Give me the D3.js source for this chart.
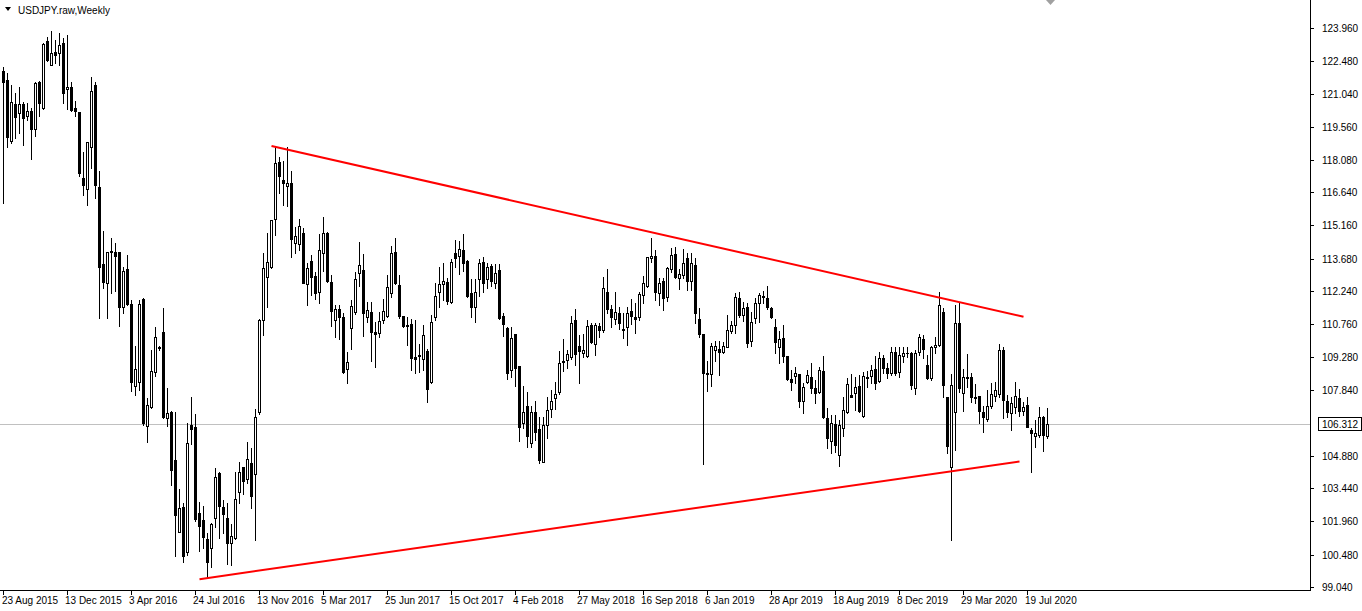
<!DOCTYPE html>
<html><head><meta charset="utf-8">
<script src="https://cdn.jsdelivr.net/npm/d3@7"></script>
<style>html,body{margin:0;padding:0;background:#fff;} svg{display:block;}</style>
</head><body><svg id="c" width="1362" height="611"></svg>
<script>
const title = "USDJPY.raw,Weekly";
const openP = [122.05,121.65,118.94,120.56,120.16,120.56,120.04,120.28,119.45,121.56,120.41,123.37,122.30,122.89,122.86,123.28,121.23,121.32,120.38,120.23,117.26,116.77,118.67,121.42,116.86,113.43,112.58,113.98,113.96,113.96,111.54,113.22,111.64,108.00,108.20,111.87,106.22,107.08,108.64,109.70,110.43,106.56,106.86,104.70,101.51,102.59,100.62,106.26,106.19,102.33,102.03,101.17,100.77,102.10,104.11,102.59,102.13,101.02,101.21,103.29,104.38,103.84,104.59,104.08,106.86,110.95,112.88,113.32,115.43,118.00,117.19,116.92,117.04,114.36,114.33,114.81,112.55,113.59,112.91,112.21,113.92,114.84,112.65,110.95,111.42,111.09,108.74,110.57,111.31,113.02,113.17,111.06,111.31,110.42,110.35,110.94,111.14,112.13,113.99,112.50,111.12,110.70,110.76,109.28,109.40,109.19,109.56,108.19,111.06,112.21,112.53,112.65,111.76,113.91,113.79,114.06,113.57,112.16,111.51,112.75,113.54,112.75,113.35,112.61,113.17,111.12,110.57,108.71,110.32,108.90,106.34,107.12,105.48,106.82,106.08,104.63,106.27,106.97,107.46,107.75,109.08,109.14,109.28,110.95,109.79,109.49,109.34,110.73,109.88,110.68,110.50,112.21,111.42,110.98,111.25,110.56,110.62,111.35,111.07,111.07,112.06,112.46,113.70,113.80,112.16,112.66,111.96,113.21,113.89,112.81,112.95,113.70,112.70,113.40,110.97,110.32,108.56,108.53,109.60,109.63,109.53,109.75,110.47,110.72,111.91,111.16,111.51,110.02,111.02,111.68,112.01,111.91,111.46,110.64,109.76,110.13,109.34,108.30,108.45,108.54,107.31,108.20,108.42,107.90,107.75,108.69,106.56,105.57,106.31,104.93,106.12,106.82,107.60,107.71,108.00,106.66,108.34,108.45,108.74,108.24,109.23,108.79,108.59,109.53,108.64,109.34,109.49,109.49,107.90,109.53,110.08,108.94,108.34,109.72,109.83,111.31,107.50,104.40,106.86,110.80,107.67,108.34,108.39,107.53,107.56,106.86,106.51,107.11,107.56,107.64,109.60,107.35,106.78,107.08,107.45,106.90,107.15,106.04,105.77,105.82,106.60,105.77];
const highP = [122.20,121.94,121.42,121.05,121.32,120.68,120.63,120.38,121.57,121.60,123.31,123.58,123.84,123.43,123.73,123.50,123.65,121.57,120.71,120.23,118.41,118.90,121.76,121.57,117.60,114.91,113.99,114.59,114.36,113.96,113.32,113.84,111.84,109.79,111.84,111.94,107.45,109.61,110.65,109.80,111.47,107.90,106.90,106.86,103.40,102.80,106.34,107.53,106.76,102.85,102.65,101.43,101.91,104.33,104.18,102.92,102.77,101.85,104.18,104.63,104.41,105.52,105.22,106.96,110.97,113.92,114.81,115.40,118.70,118.23,118.05,118.67,117.60,115.11,115.43,115.03,113.47,113.84,113.10,114.76,115.52,114.86,112.95,111.61,111.61,111.24,109.53,111.83,113.10,114.43,113.88,111.76,111.76,110.87,111.31,111.86,112.95,114.24,114.58,112.95,111.12,111.06,110.97,110.94,109.87,110.72,109.63,111.16,112.58,113.32,113.50,112.80,113.65,114.51,114.48,114.78,113.62,112.75,112.75,113.65,113.77,113.50,113.44,113.44,113.44,111.24,110.62,110.64,110.32,108.90,107.98,107.75,107.09,107.31,106.64,106.64,107.53,107.83,108.20,109.54,110.09,109.61,111.13,111.42,110.28,110.32,110.95,110.83,110.83,110.80,112.85,113.21,111.62,112.21,111.51,111.25,111.51,111.87,111.69,112.21,112.91,113.77,114.59,114.07,112.81,112.81,113.30,114.14,114.19,113.21,114.10,113.95,113.95,113.70,111.46,110.32,109.13,109.93,110.02,110.02,109.98,111.16,110.91,112.16,112.20,111.76,111.71,111.31,111.91,112.16,112.25,112.46,111.51,110.97,110.47,110.72,109.34,108.72,108.84,108.54,108.15,108.72,109.02,108.27,108.84,109.34,107.01,106.71,106.71,106.49,107.50,108.35,108.54,108.39,108.49,108.64,108.68,108.94,109.34,109.53,109.38,109.04,109.72,109.75,109.72,109.72,109.72,109.53,109.61,110.32,110.27,109.38,109.78,110.20,112.20,111.46,107.50,108.54,111.61,111.69,108.74,109.43,108.59,108.09,107.56,107.11,107.82,108.12,108.19,109.87,109.72,107.60,107.53,108.19,107.85,107.30,107.53,106.11,106.48,107.08,106.66,107.00];
const lowP = [116.18,118.64,118.85,119.07,119.27,118.73,119.86,118.11,119.15,120.05,120.34,122.51,122.30,122.39,122.31,120.63,120.34,120.28,120.04,117.37,116.52,116.07,117.71,116.37,111.02,112.36,111.02,112.16,112.25,110.68,111.24,111.61,107.79,107.60,107.83,106.26,105.52,107.01,108.45,109.62,106.56,106.22,103.59,100.40,101.47,100.17,100.47,105.42,101.96,100.66,100.77,99.47,99.92,101.73,101.21,101.43,100.07,100.02,101.17,102.80,103.19,103.69,102.55,101.14,106.76,110.28,111.54,113.25,114.73,116.59,116.07,116.03,113.77,113.92,114.07,112.58,111.61,112.06,111.87,111.72,113.12,112.65,110.68,110.17,110.08,108.60,108.15,109.63,111.21,112.46,110.23,110.87,109.13,108.83,110.17,110.79,111.06,111.95,112.55,111.02,110.61,109.83,108.71,108.59,108.64,108.71,107.30,108.12,110.94,111.51,111.83,111.66,111.69,113.29,112.99,113.14,111.95,111.06,110.87,112.01,112.21,112.35,112.46,112.35,110.97,110.23,108.30,108.42,108.00,105.57,106.12,105.27,105.30,105.60,104.56,104.63,105.67,106.64,106.97,107.65,108.65,108.79,109.20,108.94,108.13,109.28,109.31,109.91,109.39,110.18,110.43,111.24,110.62,110.77,110.53,110.13,109.83,110.77,110.38,110.95,111.72,112.43,113.55,111.84,111.62,111.39,111.81,113.10,112.81,112.31,112.81,112.26,112.26,110.82,110.20,104.52,107.79,108.00,109.13,108.49,109.46,109.72,110.35,110.35,111.06,110.91,109.75,109.78,110.82,110.87,111.68,111.42,111.02,109.48,109.04,109.09,108.27,107.83,108.15,107.05,106.79,108.12,107.68,107.23,107.71,106.56,105.23,105.03,105.08,104.44,105.75,106.79,107.50,106.93,106.86,106.63,107.97,108.15,107.85,108.19,108.57,108.34,108.49,108.49,108.42,109.09,109.31,107.85,107.64,109.38,109.23,108.30,108.27,109.46,109.78,107.53,105.00,101.13,105.15,107.75,106.90,107.94,107.30,107.23,106.37,105.96,106.45,107.00,107.35,107.50,106.56,106.63,106.04,106.81,106.66,106.71,106.16,104.18,105.30,105.71,105.12,105.67];
const closeP = [121.57,119.09,120.65,120.01,120.56,119.94,120.26,119.45,121.53,120.63,123.25,122.54,122.83,122.77,123.20,121.05,121.32,120.31,120.28,117.48,116.96,118.90,121.15,116.96,113.32,112.65,113.99,114.02,113.81,111.54,113.13,111.64,108.20,108.75,111.64,106.34,107.16,108.67,110.17,109.74,106.63,106.78,104.26,102.25,102.55,100.42,105.45,106.07,102.06,101.76,101.29,100.17,101.85,103.93,102.67,102.28,101.02,101.33,102.95,104.15,103.78,104.73,103.10,106.64,110.94,113.25,113.52,115.40,117.96,117.37,117.04,117.07,114.54,114.69,115.15,112.61,113.25,112.85,112.13,114.07,114.84,112.70,111.36,111.42,111.09,108.64,109.08,111.57,112.75,113.39,111.27,111.39,110.42,110.30,110.90,111.34,112.43,113.91,112.58,111.12,110.67,110.67,109.23,109.19,109.35,110.27,107.85,110.84,112.01,112.55,112.68,111.80,113.54,113.69,114.09,113.50,112.01,111.51,112.21,113.47,112.61,113.29,112.70,113.05,111.05,110.76,108.59,110.12,108.79,106.16,106.86,105.78,106.82,105.97,104.71,106.27,106.91,107.34,107.65,109.02,109.12,109.43,110.80,109.43,109.54,109.61,110.68,109.98,110.73,110.50,112.36,111.42,111.07,111.32,110.83,110.50,111.25,111.10,110.98,112.11,112.58,113.74,113.80,112.21,112.61,111.91,113.25,113.85,112.85,113.00,113.47,112.70,113.47,111.24,110.32,108.56,108.52,109.78,109.78,109.53,109.78,110.50,110.72,111.95,111.16,111.46,109.93,110.87,111.71,112.06,111.95,111.54,111.06,109.98,110.09,109.34,108.30,108.20,108.57,107.31,107.95,108.49,107.90,107.71,108.72,106.61,105.67,106.34,105.37,106.27,106.93,108.09,107.53,107.95,106.90,108.45,108.42,108.71,108.15,109.23,108.79,108.59,109.53,108.59,109.38,109.46,109.46,108.05,109.49,110.17,109.63,108.34,109.75,109.83,111.61,108.05,105.32,108.05,110.80,107.90,108.39,108.39,107.53,107.45,106.90,106.60,107.11,107.64,107.82,109.60,107.38,106.86,107.23,107.56,106.90,107.05,106.16,105.89,105.92,106.60,105.82,106.31];
const yTickValues = [123.960,122.480,121.040,119.560,118.080,116.640,115.160,113.680,112.240,110.760,109.280,107.840,104.880,103.440,101.960,100.480,99.040];
const xTickBars = [0,16,32,48,64,80,96,112,128,144,160,176,192,208,224,240,256];
const xTickLabels = ["23 Aug 2015","13 Dec 2015","3 Apr 2016","24 Jul 2016","13 Nov 2016","5 Mar 2017","25 Jun 2017","15 Oct 2017","4 Feb 2018","27 May 2018","16 Sep 2018","6 Jan 2019","28 Apr 2019","18 Aug 2019","8 Dec 2019","29 Mar 2020","19 Jul 2020"];
const currentPrice = 106.312;
const upperTrendBars = [67, 255];
const upperTrendPrices = [118.70, 111.09];
const lowerTrendBars = [49, 254];
const lowerTrendPrices = [99.39, 104.63];

const W = 1362, H = 611, plotR = 1310, plotB = 590;
const svg = d3.select("#c");
const font = "'Liberation Sans', Arial, sans-serif";

const x = d3.scaleLinear().domain([0, 261]).range([3, 1047]);
const y = d3.scaleLinear().domain([99.04, 123.96]).range([587, 28]);
const cx = i => Math.round(x(i));
const py = v => Math.round(y(v));

svg.append("rect").attr("width", W).attr("height", H).attr("fill", "#fff");

const defs = svg.append("defs");
defs.append("clipPath").attr("id", "clip").append("rect").attr("x", 0).attr("y", 0).attr("width", plotR).attr("height", plotB);
const plot = svg.append("g").attr("clip-path", "url(#clip)").attr("shape-rendering", "crispEdges");

// current price line
plot.append("line").attr("x1", 0).attr("x2", plotR).attr("y1", py(currentPrice) + 0.5).attr("y2", py(currentPrice) + 0.5)
  .attr("stroke", "#c0c0c0").attr("stroke-width", 1);

const bars = d3.range(openP.length).map(i => ({i, o: openP[i], h: highP[i], l: lowP[i], c: closeP[i]}));
const g = plot.append("g");
// wicks
g.selectAll("rect.w").data(bars).join("rect").attr("class", "w")
  .attr("x", d => cx(d.i)).attr("width", 1)
  .attr("y", d => py(d.h)).attr("height", d => Math.max(1, py(d.l) - py(d.h) + 1))
  .attr("fill", "#000");
// bodies
g.selectAll("rect.b").data(bars).join("rect").attr("class", "b")
  .each(function(d) {
    const top = py(Math.max(d.o, d.c)), bot = py(Math.min(d.o, d.c));
    const sel = d3.select(this);
    if (d.c > d.o && bot - top >= 2) {
      sel.attr("x", cx(d.i) - 0.5).attr("y", top + 0.5).attr("width", 2).attr("height", bot - top)
        .attr("fill", "#fff").attr("stroke", "#000").attr("stroke-width", 1).attr("shape-rendering", "crispEdges");
    } else {
      sel.attr("x", cx(d.i) - 1).attr("y", top).attr("width", 3).attr("height", Math.max(1, bot - top + 1))
        .attr("fill", "#000");
    }
  });

// trend lines
const tl = svg.append("g").attr("clip-path", "url(#clip)");
tl.append("line").attr("x1", x(upperTrendBars[0]) + 0.5).attr("y1", y(upperTrendPrices[0]))
  .attr("x2", x(upperTrendBars[1]) + 0.5).attr("y2", y(upperTrendPrices[1]))
  .attr("stroke", "#ff0000").attr("stroke-width", 2);
tl.append("line").attr("x1", x(lowerTrendBars[0]) + 0.5).attr("y1", y(lowerTrendPrices[0]))
  .attr("x2", x(lowerTrendBars[1]) + 0.5).attr("y2", y(lowerTrendPrices[1]))
  .attr("stroke", "#ff0000").attr("stroke-width", 2);

// frame
const fr = svg.append("g").attr("shape-rendering", "crispEdges");
fr.append("line").attr("x1", plotR + 0.5).attr("x2", plotR + 0.5).attr("y1", 0).attr("y2", plotB + 1).attr("stroke", "#000");
fr.append("line").attr("x1", 0).attr("x2", plotR + 1).attr("y1", plotB + 0.5).attr("y2", plotB + 0.5).attr("stroke", "#000");

// y axis ticks and labels
const ya = svg.append("g");
yTickValues.forEach(v => {
  const yy = py(v);
  ya.append("line").attr("x1", plotR).attr("x2", plotR + 4).attr("y1", yy + 0.5).attr("y2", yy + 0.5)
    .attr("stroke", "#000").attr("shape-rendering", "crispEdges");
  ya.append("text").attr("x", 1322).attr("y", yy + 4).text(d3.format(".3f")(v))
    .attr("font-family", font).attr("font-size", 10).attr("fill", "#000");
});
// current price label
const cpy = py(currentPrice);
ya.append("rect").attr("x", plotR + 8.5).attr("y", cpy - 6.5).attr("width", 43).attr("height", 13)
  .attr("fill", "#fff").attr("stroke", "#000").attr("shape-rendering", "crispEdges");
ya.append("text").attr("x", 1322).attr("y", cpy + 4).text(d3.format(".3f")(currentPrice))
  .attr("font-family", font).attr("font-size", 10).attr("fill", "#000");

// x axis ticks and labels
const xa = svg.append("g");
xTickBars.forEach((b, k) => {
  const xx = cx(b);
  xa.append("line").attr("x1", xx + 0.5).attr("x2", xx + 0.5).attr("y1", plotB).attr("y2", plotB + 5)
    .attr("stroke", "#000").attr("shape-rendering", "crispEdges");
  xa.append("text").attr("x", Math.max(2, xx - 2)).attr("y", 604).text(xTickLabels[k])
    .attr("font-family", font).attr("font-size", 10).attr("fill", "#000");
});

// title
svg.append("path").attr("d", "M5,7 L11,7 L8,11 Z").attr("fill", "#000");
svg.append("text").attr("x", 18).attr("y", 14).text(title).attr("font-family", font).attr("font-size", 10).attr("fill", "#000");
// chart shift marker
svg.append("path").attr("d", "M1046,0 L1055,0 L1050.5,5 Z").attr("fill", "#a0a0a0");
</script></body></html>
